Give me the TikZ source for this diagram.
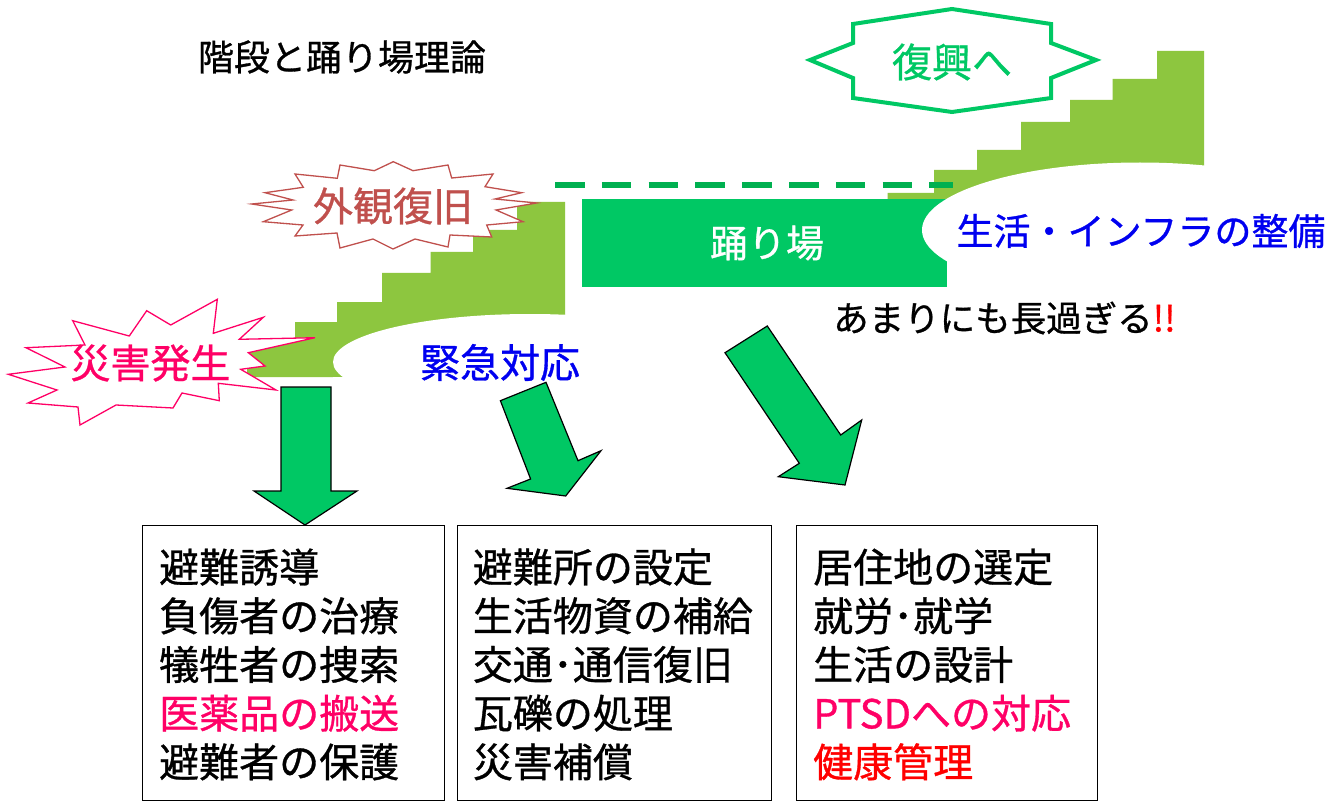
\documentclass[tikz,border=0pt]{standalone}
\usepackage{fontspec}
\setmainfont{Noto Sans CJK JP}[FakeBold=0.8]
\definecolor{stair}{HTML}{8DC63F}
\definecolor{landg}{HTML}{00C864}
\definecolor{dashg}{HTML}{00B050}
\definecolor{gaikan}{HTML}{C0504D}
\definecolor{saigai}{HTML}{FF0066}
\definecolor{tblue}{HTML}{0000F0}
\definecolor{tred}{HTML}{FF0000}
\tikzset{
  stairfill/.style={fill=stair, draw=none},
  hole/.style={fill=white, draw=none},
  blockarrow/.style={fill=landg, draw=black, line width=1.2pt, line join=miter},
  burst/.style={fill=white, line width=1.3pt, line join=miter},
  listbox/.style={draw=black, line width=1.3pt, fill=white, inner sep=0pt, anchor=north west},
  listtext/.style={anchor=west, align=left, inner sep=0pt, font=\fontsize{40}{48.7}\selectfont},
  big/.style={inner sep=0pt, font=\fontsize{40}{44}\selectfont},
}
\begin{document}
\begin{tikzpicture}[x=1pt,y=-1pt]
\useasboundingbox (0,0) rectangle (1338,802);
\fill[white] (0,0) rectangle (1338,802);

% title
\node[inner sep=0pt, font=\fontsize{36}{40}\selectfont] (title) at (342,57) {階段と踊り場理論};

% left staircase
\fill[stairfill] (247,377) -- (247,343) -- (295,343) -- (295,322) -- (337,322) -- (337,302)
  -- (382,302) -- (382,273) -- (430.5,273) -- (430.5,252) -- (473,252) -- (473,230)
  -- (517,230) -- (517,202) -- (565,202) -- (565,377) -- cycle;
\fill[hole] (530,362) ellipse [x radius=197pt, y radius=48pt];
\fill[white] (333,377) rectangle (600,420);

% right staircase
\fill[stairfill] (887.6,240) -- (887.6,193) -- (934,193) -- (934,170) -- (977,170) -- (977,150)
  -- (1021,150) -- (1021,122) -- (1070,122) -- (1070,100) -- (1112.5,100) -- (1112.5,79)
  -- (1157,79) -- (1157,51) -- (1204,51) -- (1204,240) -- cycle;

% landing
\node[fill=landg, minimum width=365pt, minimum height=88pt, anchor=north west, inner sep=0pt] (odori) at (582,199) {};
\node[inner sep=0pt, text=white, font=\fontsize{38}{42}\selectfont] (odoritxt) at (767,243) {踊り場};
\fill[hole] (1140,230) ellipse [x radius=218pt, y radius=67.5pt];

% dashed line
\coordinate (dl) at (555,185);
\coordinate (dr) at (953,185);
\draw[dashg, line width=6pt, dash pattern=on 29.5pt off 17.3pt] (dl) -- (dr);

% fukkou star
\draw[draw=landg, line width=4pt, fill=white, line join=miter]
  (853,24) -- (853,43) -- (810,60) -- (853,78) -- (853,98) -- (952,112) -- (1051,98)
  -- (1051,78) -- (1096,60) -- (1051,43) -- (1051,24) -- (952,9) -- cycle;
\node[big, text=landg] (fukkou) at (952,62) {復興へ};

% gaikan burst
\draw[burst, draw=gaikan]
  (393.3,161.7) -- (374.3,170.7) -- (340,165) -- (337.3,178.3) -- (295,174) -- (303.3,187.3)
  -- (265,192.7) -- (293,200) -- (251.7,204) -- (291.7,210) -- (263.3,221.7) -- (303,225)
  -- (295,236) -- (337,233) -- (340,248) -- (373,239) -- (393,249) -- (415,239) -- (448,247)
  -- (450,235) -- (491.7,237) -- (486.7,225) -- (523,221.7) -- (496,210) -- (536.7,203)
  -- (495,199) -- (521.7,192.7) -- (485,186.7) -- (493,174) -- (451.7,178) -- (448,165)
  -- (413,170.7) -- cycle;
\node[big, text=gaikan] (gaikantxt) at (393,206) {外観復旧};

% saigai burst
\draw[burst, draw=saigai]
  (8.3,374.3) -- (65,367) -- (26,347.7) -- (85,345) -- (72.7,320.7) -- (129.3,336)
  -- (146.7,310.7) -- (170.7,325) -- (217.3,299.3) -- (213.3,333.3) -- (263.3,317.3)
  -- (239.3,339.3) -- (315,337.7) -- (248.3,352.7) -- (265,366) -- (240.7,369.3)
  -- (276,390) -- (218.3,383.3) -- (219.3,400.7) -- (182,393) -- (173,408) -- (116,405)
  -- (80,425) -- (78,407) -- (28,403) -- (57,390) -- cycle;
\node[big, text=saigai] (saigaitxt) at (150.5,363) {災害発生};

% other labels
\node[big, text=tblue] (kinkyu) at (500,362.5) {緊急対応};
\node[inner sep=0pt, text=tblue, font=\fontsize{37}{41}\selectfont] (seikatsu) at (1141,231) {生活・インフラの整備};
\node[anchor=west, inner sep=0pt, font=\fontsize{35.5}{40}\selectfont] (amari) at (833,318)
  {あまりにも長過ぎる\textcolor{tred}{!!}};

% block arrows
\draw[blockarrow] (281,387) -- (331,387) -- (331,491) -- (357,491) -- (305,525) -- (254,491) -- (281,491) -- cycle;
\draw[blockarrow] (500.4,400.7) -- (546,382.3) -- (578,460.7) -- (601,450.7) -- (565.7,496) -- (507,488.3) -- (530.6,479) -- cycle;
\draw[blockarrow] (725,352.7) -- (767.3,326) -- (840.7,435) -- (861.7,420) -- (845,485) -- (778.3,476.7) -- (799.3,463.3) -- cycle;

% boxes
\node[listbox, minimum width=302pt, minimum height=275pt] (box1) at (142,525) {};
\node[listbox, minimum width=314pt, minimum height=275pt] (box2) at (457,525) {};
\node[listbox, minimum width=301pt, minimum height=275pt] (box3) at (796,525) {};

\node[listtext] (t1) at (159,664.5) {避難誘導\\負傷者の治療\\犠牲者の捜索\\\textcolor{saigai}{医薬品の搬送}\\避難者の保護};
\node[listtext] (t2) at (472.7,664.5) {避難所の設定\\生活物資の補給\\交通･通信復旧\\瓦礫の処理\\災害補償};
\node[listtext] (t3) at (813,664.5) {居住地の選定\\就労･就学\\生活の設計\\\textcolor{saigai}{PTSDへの対応}\\\textcolor{tred}{健康管理}};
\end{tikzpicture}
\end{document}
